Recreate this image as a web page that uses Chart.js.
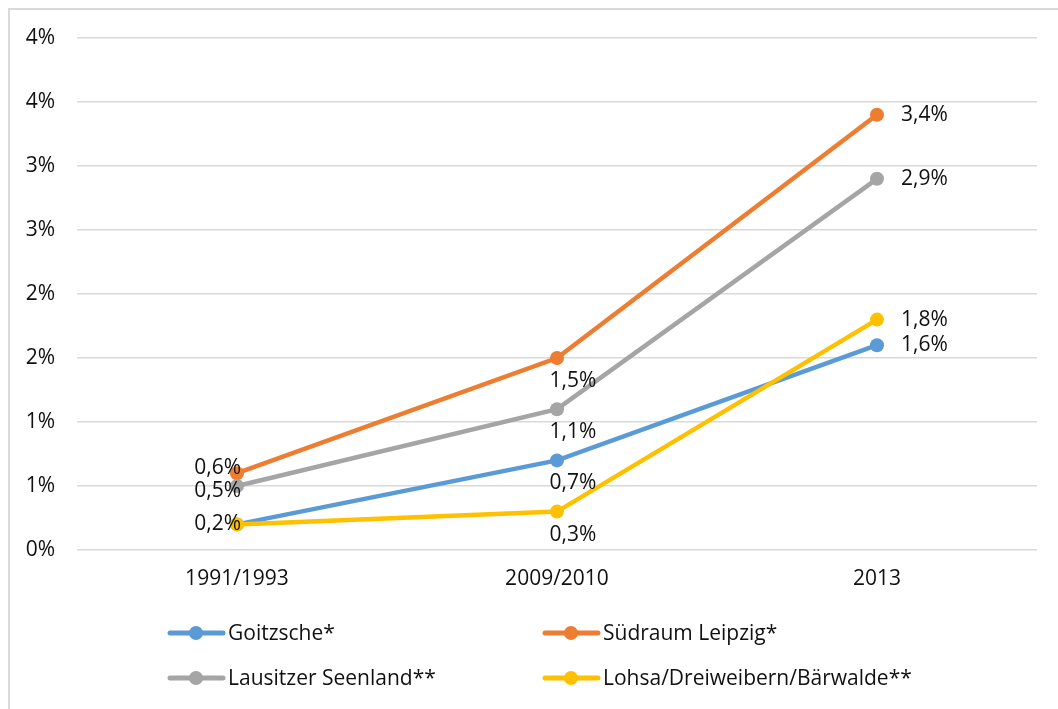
<!DOCTYPE html>
<html>
<head>
<meta charset="utf-8">
<script src="https://cdn.jsdelivr.net/npm/chart.js@4.4.1/dist/chart.umd.min.js"></script>
<style>
  html, body { margin: 0; padding: 0; background: #fff; }
  #wrap { position: relative; width: 1058px; height: 709px; }
  #frame { position: absolute; left: 8px; top: 8px; right: -4px; bottom: -4px; border-left: 2px solid #d9d9d9; border-top: 2px solid #d9d9d9; pointer-events: none; }
  canvas { position: absolute; left: 0; top: 0; }
</style>
</head>
<body>
<div id="wrap">
  <canvas id="c" width="1058" height="709"></canvas>
  <div id="frame"></div>
</div>
<script>
const categories = ['1991/1993', '2009/2010', '2013'];
const goitzsche = [0.2, 0.7, 1.6];
const suedraumLeipzig = [0.6, 1.5, 3.4];
const lausitzerSeenland = [0.5, 1.1, 2.9];
const lohsa = [0.2, 0.3, 1.8];
const seriesNames = ['Goitzsche*', 'Südraum Leipzig*', 'Lausitzer Seenland**', 'Lohsa/Dreiweibern/Bärwalde**'];
const yTickMin = 0, yTickMax = 4, yTickStep = 0.5;

const FONT = '"Open Sans", "Noto Sans", sans-serif';
const FS = 21;
const TXT = '#111111';
const colors = ['#5B9BD5', '#ED7D31', '#A5A5A5', '#FFC000'];
const seriesData = [goitzsche, suedraumLeipzig, lausitzerSeenland, lohsa];

function fmt(v) { return v.toFixed(1).replace('.', ',') + '%'; }

const dataLabels = {
  id: 'dataLabels',
  afterDatasetsDraw(chart) {
    const ctx = chart.ctx;
    ctx.save();
    ctx.font = FS + 'px ' + FONT;
    ctx.fillStyle = TXT;
    const n = chart.data.labels.length;
    for (let i = 0; i < n; i++) {
      let items = [];
      chart.data.datasets.forEach((ds, di) => {
        const pt = chart.getDatasetMeta(di).data[i];
        const t = fmt(ds.data[i]);
        let x, y, align;
        if (i === 0) { align = 'right'; x = pt.x + 4; y = pt.y; }
        else if (i === 1) { align = 'center'; x = pt.x + 16; y = pt.y + 23; }
        else { align = 'left'; x = pt.x + 24; y = pt.y; }
        if (items.some(o => o.t === t && Math.abs(o.y - y) < 2)) return;
        items.push({ t, x, y, align });
      });
      items.sort((a, b) => a.y - b.y);
      const minGap = 23;
      for (let k = 1; k < items.length; k++) {
        const gap = items[k].y - items[k - 1].y;
        if (gap < minGap) {
          const d = (minGap - gap) / 2;
          items[k - 1].y -= d; items[k].y += d;
        }
      }
      items.forEach(o => {
        ctx.textAlign = o.align; ctx.textBaseline = 'middle';
        ctx.fillText(o.t, o.x, o.y);
      });
    }
    ctx.restore();
  }
};

const customLegend = {
  id: 'customLegend',
  afterDraw(chart) {
    const ctx = chart.ctx;
    const pos = [[168, 633], [543, 633], [168, 678], [543, 678]];
    ctx.save();
    ctx.font = FS + 'px ' + FONT;
    ctx.textAlign = 'left'; ctx.textBaseline = 'middle';
    chart.data.datasets.forEach((ds, i) => {
      const [x, y] = pos[i];
      ctx.strokeStyle = ds.borderColor; ctx.lineWidth = 5; ctx.lineCap = 'round';
      ctx.beginPath(); ctx.moveTo(x + 2, y); ctx.lineTo(x + 55, y); ctx.stroke();
      ctx.fillStyle = ds.borderColor;
      ctx.beginPath(); ctx.arc(x + 28, y, 7, 0, Math.PI * 2); ctx.fill();
      ctx.fillStyle = TXT;
      ctx.fillText(ds.label, x + 60, y + 1);
    });
    ctx.restore();
  }
};

new Chart(document.getElementById('c'), {
  type: 'line',
  data: {
    labels: categories,
    datasets: seriesData.map((d, i) => ({
      label: seriesNames[i],
      data: d,
      order: seriesData.length - i,
      borderColor: colors[i],
      backgroundColor: colors[i],
      borderWidth: 4.5,
      pointRadius: 7,
      pointHoverRadius: 7,
      pointBackgroundColor: colors[i],
      pointBorderWidth: 0,
      tension: 0,
      fill: false
    }))
  },
  options: {
    responsive: false,
    animation: false,
    events: [],
    layout: { padding: { left: 0, right: 21, top: 38, bottom: 0 } },
    plugins: { legend: { display: false }, tooltip: { enabled: false } },
    scales: {
      x: {
        offset: true,
        grid: { display: false, drawTicks: false },
        border: { display: false },
        ticks: { font: { family: FONT, size: FS }, color: TXT, padding: 16, maxRotation: 0 },
        afterFit(s) { s.height = 159; }
      },
      y: {
        min: yTickMin, max: yTickMax,
        grid: { color: '#d9d9d9', lineWidth: 1.5, drawTicks: false },
        border: { display: false },
        ticks: {
          stepSize: yTickStep,
          font: { family: FONT, size: FS }, color: TXT, padding: 22,
          callback: v => Math.round(v) + '%'
        },
        afterFit(s) { s.width = 77; }
      }
    }
  },
  plugins: [dataLabels, customLegend]
});
</script>
</body>
</html>
